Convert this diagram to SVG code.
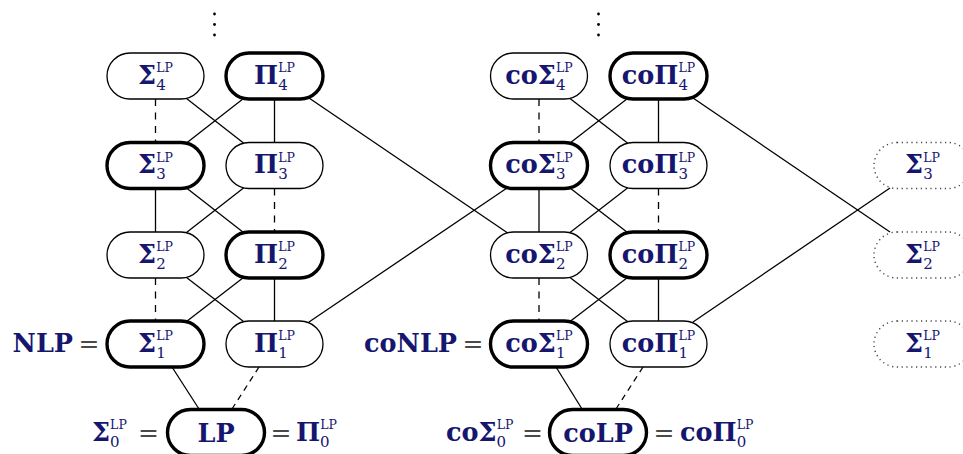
<svg xmlns="http://www.w3.org/2000/svg" width="963" height="454" viewBox="0 0 963 454">
<style>
.n{fill:#fff;stroke:#000;stroke-width:1.3}
.nt{fill:#fff;stroke:#000;stroke-width:3.4}
.nd{fill:#fff;stroke:#444;stroke-width:1.4;stroke-dasharray:1.2 3.6}
.e{stroke:#000;stroke-width:1.3;fill:none}
.d{stroke-dasharray:7 6.5}
.t{font-family:"DejaVu Serif",serif;fill:#16166f;text-anchor:middle}
.ts{font-family:"DejaVu Serif",serif;fill:#16166f}
.m{font-weight:bold;font-size:25.5px}
.s{font-size:15px}
.p{font-size:12.5px}
.eq{font-family:"DejaVu Serif",serif;fill:#4a4a4a;font-size:25px;text-anchor:middle}
</style>
<defs>
<rect id="box" x="-48.5" y="-23" width="97" height="46" rx="23"/>
</defs>
<g id="vdots" fill="#000">
<circle cx="214.5" cy="14" r="1.4"/><circle cx="214.5" cy="24.5" r="1.4"/><circle cx="214.5" cy="35" r="1.4"/>
<circle cx="598.5" cy="14" r="1.4"/><circle cx="598.5" cy="24.5" r="1.4"/><circle cx="598.5" cy="35" r="1.4"/>
</g>
<g id="connectors">
<line class="e d" x1="155.5" y1="99" x2="155.5" y2="142.5"/>
<line class="e" x1="186.5" y1="98.5" x2="243.5" y2="143"/>
<line class="e" x1="243.5" y1="98.5" x2="186.5" y2="143"/>
<line class="e" x1="274.5" y1="99" x2="274.5" y2="142.5"/>
<line class="e" x1="155.5" y1="188.5" x2="155.5" y2="232"/>
<line class="e" x1="186.5" y1="188" x2="243.5" y2="232.5"/>
<line class="e" x1="243.5" y1="188" x2="186.5" y2="232.5"/>
<line class="e d" x1="274.5" y1="188.5" x2="274.5" y2="232"/>
<line class="e d" x1="155.5" y1="278" x2="155.5" y2="321"/>
<line class="e" x1="186.5" y1="277.5" x2="243.5" y2="321.5"/>
<line class="e" x1="243.5" y1="277.5" x2="186.5" y2="321.5"/>
<line class="e" x1="274.5" y1="278" x2="274.5" y2="321"/>
<line class="e" x1="172" y1="367" x2="199" y2="409"/>
<line class="e d" x1="259" y1="367" x2="232" y2="409" style="stroke-dasharray:6 5"/>
<line class="e" x1="309" y1="98" x2="507" y2="232.5"/>
<line class="e" x1="309" y1="322" x2="507" y2="188"/>
<line class="e d" x1="539" y1="99" x2="539" y2="142.5"/>
<line class="e" x1="570" y1="98.5" x2="627.5" y2="143"/>
<line class="e" x1="627.5" y1="98.5" x2="570" y2="143"/>
<line class="e" x1="658.5" y1="99" x2="658.5" y2="142.5"/>
<line class="e" x1="539" y1="188.5" x2="539" y2="232"/>
<line class="e" x1="570" y1="188" x2="627.5" y2="232.5"/>
<line class="e" x1="627.5" y1="188" x2="570" y2="232.5"/>
<line class="e d" x1="658.5" y1="188.5" x2="658.5" y2="232"/>
<line class="e d" x1="539" y1="278" x2="539" y2="321"/>
<line class="e" x1="570" y1="277.5" x2="627.5" y2="321.5"/>
<line class="e" x1="627.5" y1="277.5" x2="570" y2="321.5"/>
<line class="e" x1="658.5" y1="278" x2="658.5" y2="321"/>
<line class="e" x1="556" y1="367" x2="582" y2="409"/>
<line class="e d" x1="643" y1="367" x2="616" y2="409" style="stroke-dasharray:6 5"/>
<line class="e" x1="693" y1="98" x2="890" y2="232"/>
<line class="e" x1="693" y1="322" x2="890" y2="188"/>
</g>
<g id="S4" transform="translate(155.5 76)"><use href="#box" class="n"/><text class="t" y="7.7"><tspan class="m">Σ</tspan><tspan class="s" dy="5.8">4</tspan><tspan class="p" dx="-9.5" dy="-17.5">LP</tspan></text></g>
<g id="P4" transform="translate(274.5 76)"><use href="#box" class="nt"/><text class="t" y="7.7"><tspan class="m">Π</tspan><tspan class="s" dy="5.8">4</tspan><tspan class="p" dx="-9.5" dy="-17.5">LP</tspan></text></g>
<g id="S3" transform="translate(155.5 165.5)"><use href="#box" class="nt"/><text class="t" y="7.7"><tspan class="m">Σ</tspan><tspan class="s" dy="5.8">3</tspan><tspan class="p" dx="-9.5" dy="-17.5">LP</tspan></text></g>
<g id="P3" transform="translate(274.5 165.5)"><use href="#box" class="n"/><text class="t" y="7.7"><tspan class="m">Π</tspan><tspan class="s" dy="5.8">3</tspan><tspan class="p" dx="-9.5" dy="-17.5">LP</tspan></text></g>
<g id="S2" transform="translate(155.5 255)"><use href="#box" class="n"/><text class="t" y="7.7"><tspan class="m">Σ</tspan><tspan class="s" dy="5.8">2</tspan><tspan class="p" dx="-9.5" dy="-17.5">LP</tspan></text></g>
<g id="P2" transform="translate(274.5 255)"><use href="#box" class="nt"/><text class="t" y="7.7"><tspan class="m">Π</tspan><tspan class="s" dy="5.8">2</tspan><tspan class="p" dx="-9.5" dy="-17.5">LP</tspan></text></g>
<g id="S1" transform="translate(155.5 344)"><use href="#box" class="nt"/><text class="t" y="7.7"><tspan class="m">Σ</tspan><tspan class="s" dy="5.8">1</tspan><tspan class="p" dx="-9.5" dy="-17.5">LP</tspan></text></g>
<g id="P1" transform="translate(274.5 344)"><use href="#box" class="n"/><text class="t" y="7.7"><tspan class="m">Π</tspan><tspan class="s" dy="5.8">1</tspan><tspan class="p" dx="-9.5" dy="-17.5">LP</tspan></text></g>
<g id="LP" transform="translate(216 432.5)"><use href="#box" class="nt"/><text class="t m" y="9.5">LP</text></g>
<g id="coS4" transform="translate(539 76)"><use href="#box" class="n"/><text class="t" y="7.7"><tspan class="m">coΣ</tspan><tspan class="s" dy="5.8">4</tspan><tspan class="p" dx="-9.5" dy="-17.5">LP</tspan></text></g>
<g id="coP4" transform="translate(658.5 76)"><use href="#box" class="nt"/><text class="t" y="7.7"><tspan class="m">coΠ</tspan><tspan class="s" dy="5.8">4</tspan><tspan class="p" dx="-9.5" dy="-17.5">LP</tspan></text></g>
<g id="coS3" transform="translate(539 165.5)"><use href="#box" class="nt"/><text class="t" y="7.7"><tspan class="m">coΣ</tspan><tspan class="s" dy="5.8">3</tspan><tspan class="p" dx="-9.5" dy="-17.5">LP</tspan></text></g>
<g id="coP3" transform="translate(658.5 165.5)"><use href="#box" class="n"/><text class="t" y="7.7"><tspan class="m">coΠ</tspan><tspan class="s" dy="5.8">3</tspan><tspan class="p" dx="-9.5" dy="-17.5">LP</tspan></text></g>
<g id="coS2" transform="translate(539 255)"><use href="#box" class="n"/><text class="t" y="7.7"><tspan class="m">coΣ</tspan><tspan class="s" dy="5.8">2</tspan><tspan class="p" dx="-9.5" dy="-17.5">LP</tspan></text></g>
<g id="coP2" transform="translate(658.5 255)"><use href="#box" class="nt"/><text class="t" y="7.7"><tspan class="m">coΠ</tspan><tspan class="s" dy="5.8">2</tspan><tspan class="p" dx="-9.5" dy="-17.5">LP</tspan></text></g>
<g id="coS1" transform="translate(539 344)"><use href="#box" class="nt"/><text class="t" y="7.7"><tspan class="m">coΣ</tspan><tspan class="s" dy="5.8">1</tspan><tspan class="p" dx="-9.5" dy="-17.5">LP</tspan></text></g>
<g id="coP1" transform="translate(658.5 344)"><use href="#box" class="n"/><text class="t" y="7.7"><tspan class="m">coΠ</tspan><tspan class="s" dy="5.8">1</tspan><tspan class="p" dx="-9.5" dy="-17.5">LP</tspan></text></g>
<g id="coLP" transform="translate(598 432.5)"><use href="#box" class="nt"/><text class="t m" y="9.5">coLP</text></g>
<g id="RS3" transform="translate(922.5 165.5)"><use href="#box" class="nd"/><text class="t" y="7.7"><tspan class="m">Σ</tspan><tspan class="s" dy="5.8">3</tspan><tspan class="p" dx="-9.5" dy="-17.5">LP</tspan></text></g>
<g id="RS2" transform="translate(922.5 255)"><use href="#box" class="nd"/><text class="t" y="7.7"><tspan class="m">Σ</tspan><tspan class="s" dy="5.8">2</tspan><tspan class="p" dx="-9.5" dy="-17.5">LP</tspan></text></g>
<g id="RS1" transform="translate(922.5 344)"><use href="#box" class="nd"/><text class="t" y="7.7"><tspan class="m">Σ</tspan><tspan class="s" dy="5.8">1</tspan><tspan class="p" dx="-9.5" dy="-17.5">LP</tspan></text></g>
<g id="labels">
<text class="ts m" x="73" y="352" text-anchor="end">NLP</text>
<text class="eq" x="89" y="352">=</text>
<text class="ts m" x="457" y="352" text-anchor="end">coNLP</text>
<text class="eq" x="473" y="352">=</text>
<text class="ts" x="92" y="441"><tspan class="m">Σ</tspan><tspan class="s" dy="5.8">0</tspan><tspan class="p" dx="-9.5" dy="-17.5">LP</tspan></text>
<text class="eq" x="148.5" y="441">=</text>
<text class="eq" x="281" y="441">=</text>
<text class="ts" x="296" y="441"><tspan class="m">Π</tspan><tspan class="s" dy="5.8">0</tspan><tspan class="p" dx="-9.5" dy="-17.5">LP</tspan></text>
<text class="ts" x="446" y="441"><tspan class="m">coΣ</tspan><tspan class="s" dy="5.8">0</tspan><tspan class="p" dx="-9.5" dy="-17.5">LP</tspan></text>
<text class="eq" x="532.5" y="441">=</text>
<text class="eq" x="664" y="441">=</text>
<text class="ts" x="680" y="441"><tspan class="m">coΠ</tspan><tspan class="s" dy="5.8">0</tspan><tspan class="p" dx="-9.5" dy="-17.5">LP</tspan></text>
</g>
</svg>
